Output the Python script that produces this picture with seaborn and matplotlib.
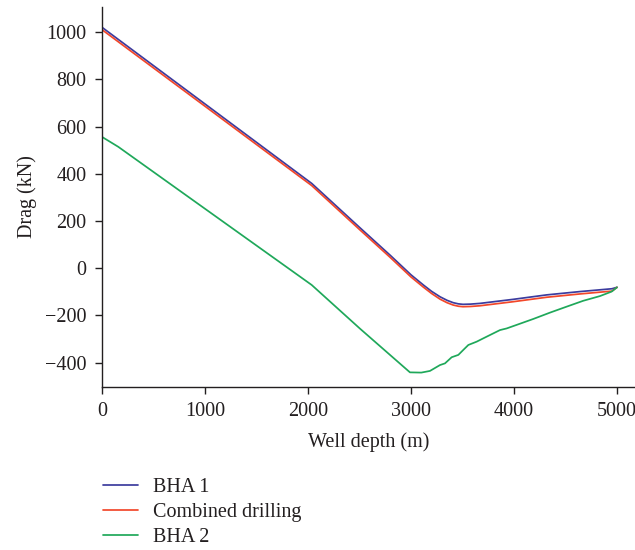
import numpy as np
import pandas as pd
import matplotlib
matplotlib.use("Agg")
import matplotlib.pyplot as plt
import seaborn as sns

# Drag along the well for the three drilling configurations
bha1_depth = [0, 2036, 2500, 2800, 3000, 3120, 3200, 3282, 3350, 3410, 3460, 3505, 3580, 3670,
              3990, 4317, 4640, 4951, 5000]
bha1_drag = [1020, 359, 173, 54, -28, -71, -98, -121, -136, -146, -151, -153, -152, -149,
             -132, -113, -99, -87, -81]

comb_depth = [0, 2036, 2500, 2800, 3000, 3120, 3200, 3282, 3350, 3410, 3460, 3505, 3580, 3670,
              3990, 4317, 4640, 4951, 5000]
comb_drag = [1010, 350, 164, 45, -37, -80, -107, -131, -146, -156, -161, -163, -162, -159,
             -142, -123, -109, -97, -81]

bha2_depth = [0, 158, 2036, 2505, 2990, 3100, 3184, 3282, 3330, 3395, 3460, 3508, 3557, 3638,
              3702, 3799, 3864, 3929, 4026, 4187, 4350, 4510, 4672, 4835, 4948, 5000]
bha2_drag = [556, 514, -71, -256, -441, -442, -435, -410, -403, -377, -367, -346, -325, -311,
             -297, -276, -262, -255, -240, -215, -188, -163, -138, -118, -99, -81]

series_names = ["BHA 1", "Combined drilling", "BHA 2"]
series_colors = ["#3c3c9e", "#f2472a", "#1fa85a"]

df = pd.concat([
    pd.DataFrame({"depth": bha1_depth, "drag": bha1_drag, "case": series_names[0]}),
    pd.DataFrame({"depth": comb_depth, "drag": comb_drag, "case": series_names[1]}),
    pd.DataFrame({"depth": bha2_depth, "drag": bha2_drag, "case": series_names[2]}),
], ignore_index=True)

sns.set_style("ticks")
plt.rcParams["font.family"] = ["Liberation Serif", "DejaVu Serif"]
plt.rcParams["font.size"] = 14.5
text_color = "#231f20"

fig = plt.figure(figsize=(6.35, 5.5), dpi=100)
ax = fig.add_axes([102 / 635, 1 - 387 / 550, 1 - 102 / 635, (387 - 7) / 550])

sns.lineplot(data=df, x="depth", y="drag", hue="case", hue_order=series_names,
             palette=dict(zip(series_names, series_colors)), sort=False,
             estimator=None, linewidth=1.25, ax=ax, legend=True)

ax.set_xlim(0, 5175)
ax.set_ylim(-503, 1106)
ax.set_xticks([0, 1000, 2000, 3000, 4000, 5000])
ax.set_yticks([-400, -200, 0, 200, 400, 600, 800, 1000])
ax.set_yticklabels(["\u2212400", "\u2212200", "0", "200", "400", "600", "800", "1000"])

ax.set_xlabel("Well depth (m)", color=text_color, labelpad=8)
ax.set_ylabel("Drag (kN)", color=text_color, labelpad=6)

for side in ("top", "right"):
    ax.spines[side].set_visible(False)
for side in ("left", "bottom"):
    ax.spines[side].set_color(text_color)
    ax.spines[side].set_linewidth(1.0)
ax.tick_params(axis="both", direction="out", length=5, width=1.0,
               colors=text_color, labelcolor=text_color, pad=6)

handles, labels = ax.get_legend_handles_labels()
ax.legend_.remove()
fig.legend(handles, labels, loc="upper left", bbox_to_anchor=(95 / 635, 1 - 470 / 550),
           frameon=False, handlelength=1.75, handletextpad=0.75, labelspacing=0.3,
           borderaxespad=0, labelcolor=text_color)

fig.savefig("out.png", dpi=100)
